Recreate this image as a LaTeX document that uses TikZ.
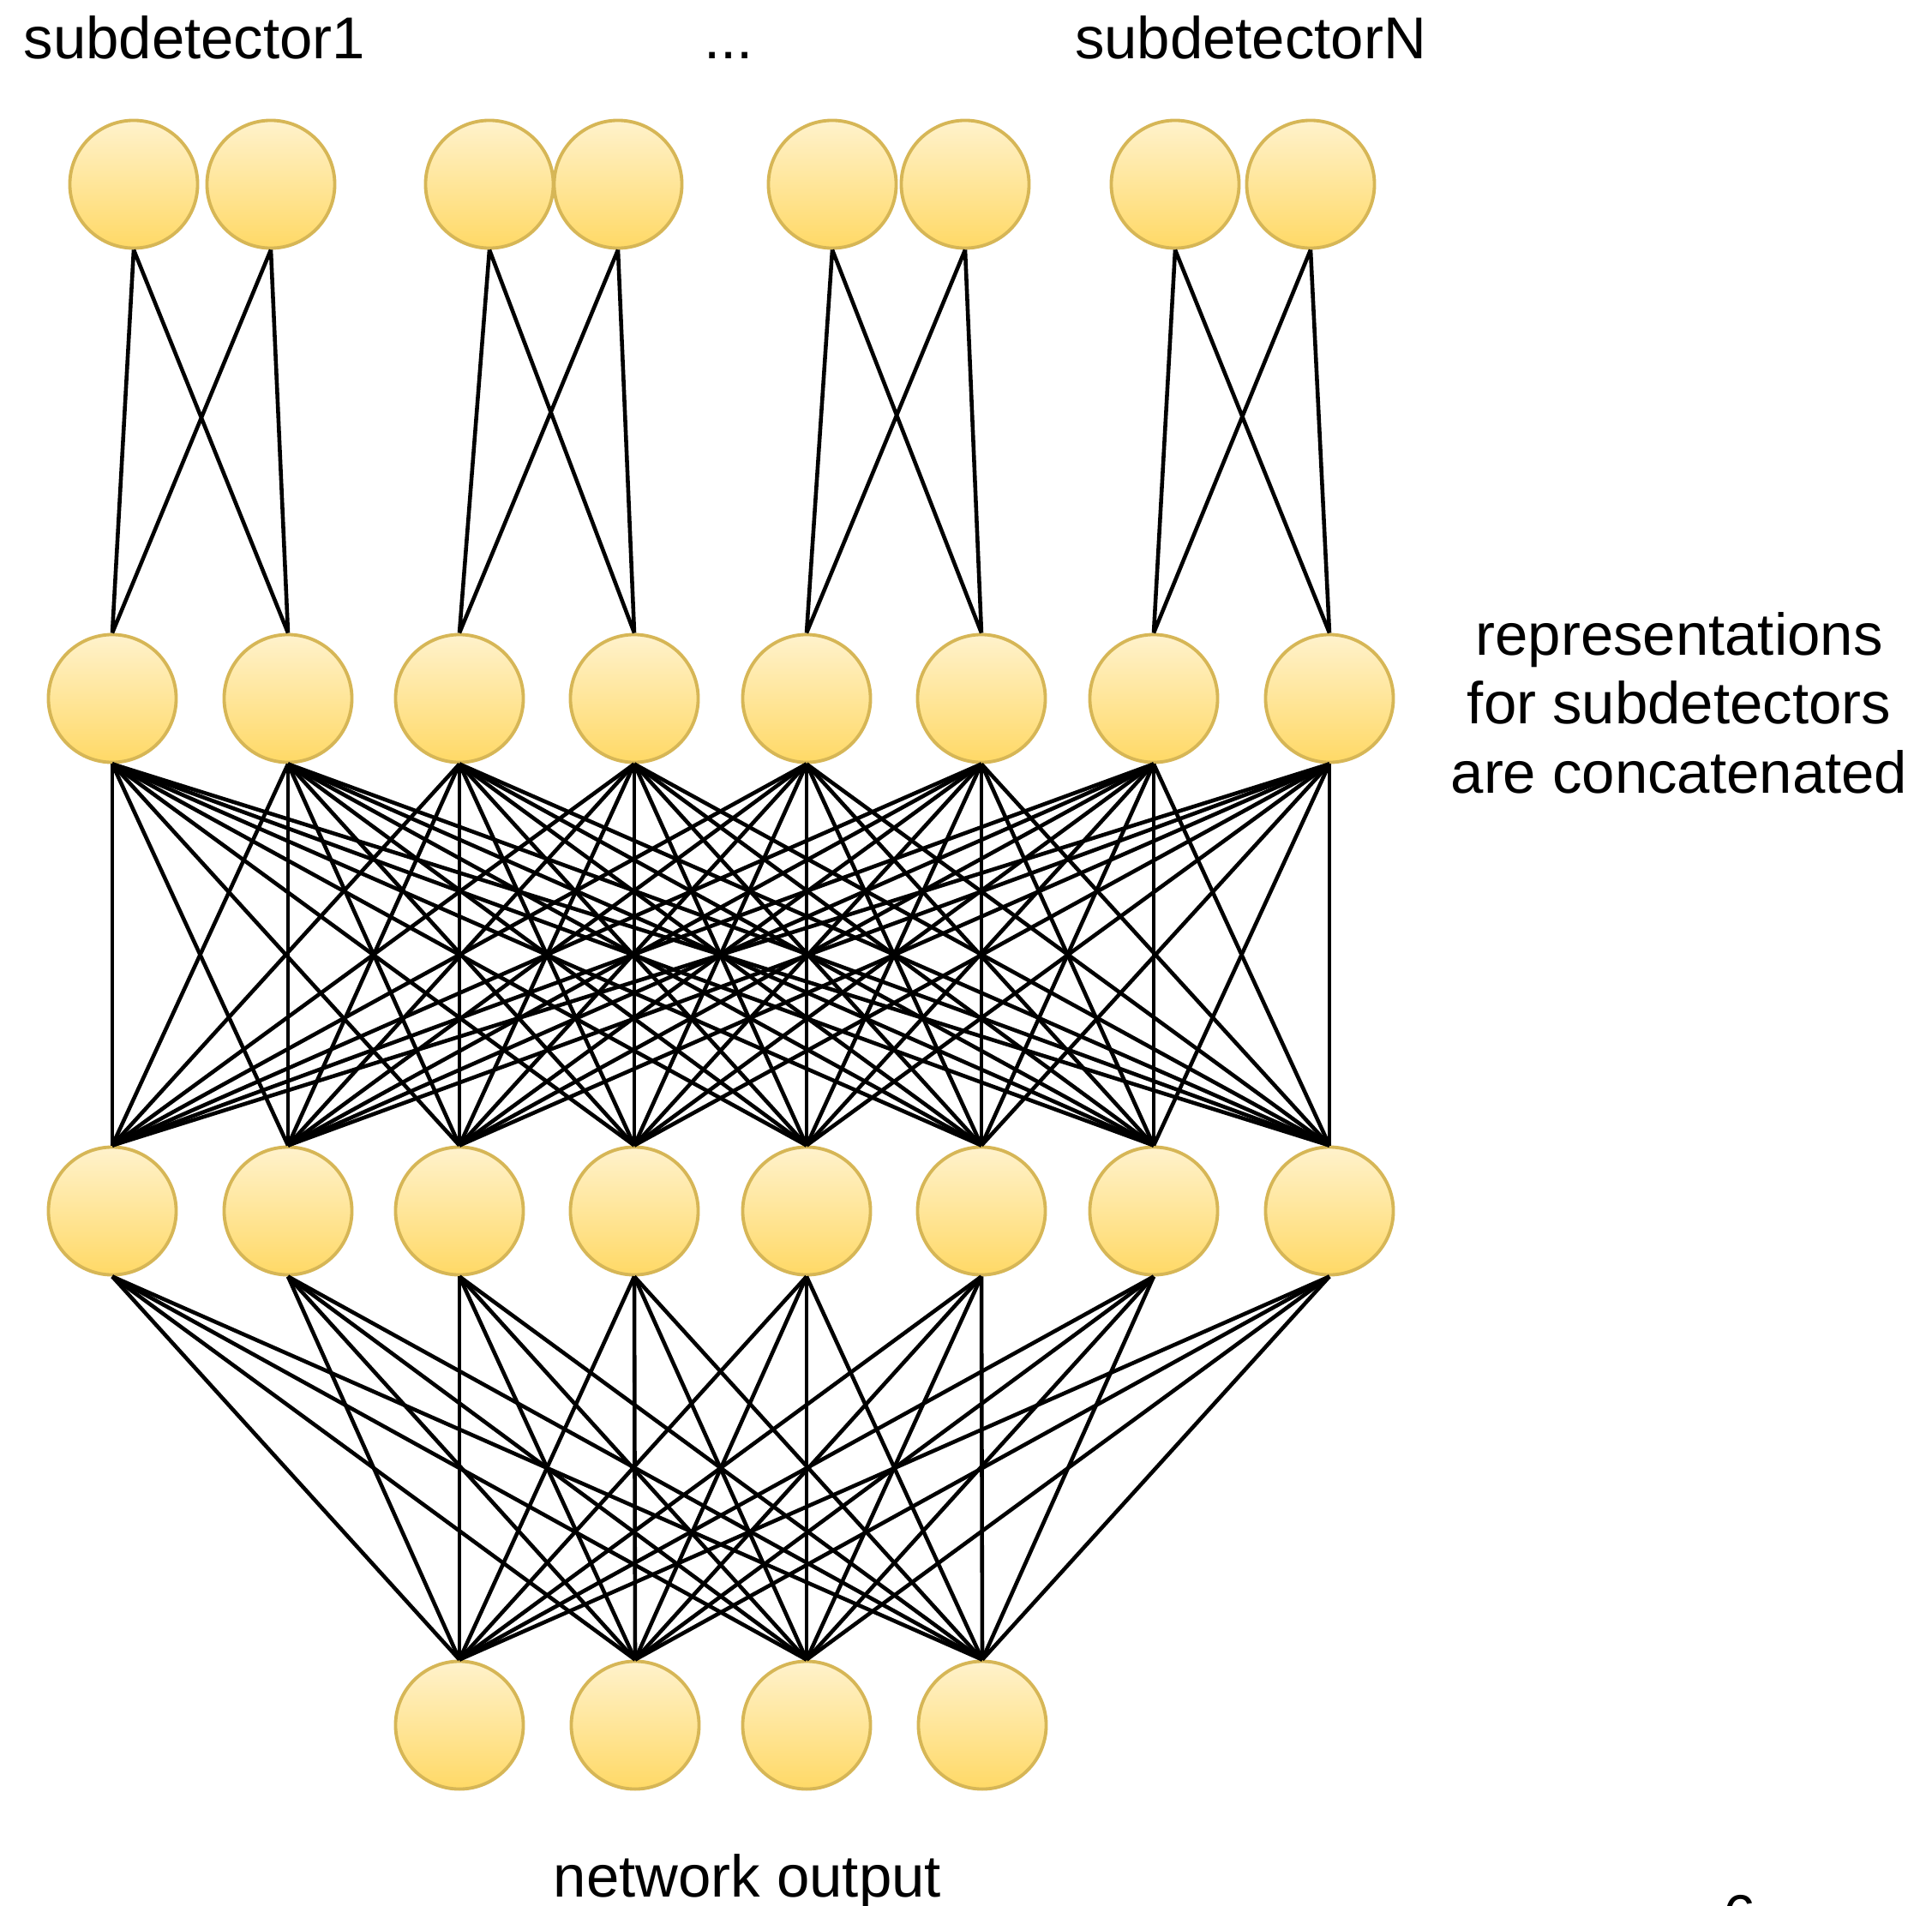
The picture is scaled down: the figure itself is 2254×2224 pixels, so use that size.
\documentclass[tikz,border=0pt]{standalone}
\usepackage{fontspec}
\setmainfont{Liberation Sans}
\definecolor{NeuronTopClr}{rgb}{1,0.949,0.8}
\definecolor{NeuronBotClr}{rgb}{1,0.851,0.4}
\definecolor{NeuronLineClr}{rgb}{0.839,0.714,0.337}

\begin{document}
\begin{tikzpicture}[x=0.01cm,y=-0.01cm,
  neuron/.style={circle,minimum size=1.49cm,inner sep=0pt,line width=1.1pt,
    draw=NeuronLineClr,top color=NeuronTopClr,bottom color=NeuronBotClr},
  wire/.style={line width=1.3pt,black},
  lbl/.style={font=\fontsize{19.6}{22.8}\selectfont,inner sep=0pt,anchor=base}]
\useasboundingbox (0,0) rectangle (2254,2224);

\node[neuron] (I1) at (156,215) {};
\node[neuron] (I2) at (316,215) {};
\node[neuron] (I3) at (571,215) {};
\node[neuron] (I4) at (721,215) {};
\node[neuron] (I5) at (971,215) {};
\node[neuron] (I6) at (1126,215) {};
\node[neuron] (I7) at (1371,215) {};
\node[neuron] (I8) at (1529,215) {};

\foreach \n/\x in {1/131,2/336,3/536,4/740,5/941,6/1145,7/1346,8/1551}{
  \node[neuron] (R\n) at (\x,815) {};
  \node[neuron] (H\n) at (\x,1413) {};
}

\node[neuron] (O1) at (536,2013) {};
\node[neuron] (O2) at (741,2013) {};
\node[neuron] (O3) at (941,2013) {};
\node[neuron] (O4) at (1146,2013) {};

\foreach \a/\b in {1/2,3/4,5/6,7/8}
  \draw[wire] (I\a.south) -- (R\a.north) (I\a.south) -- (R\b.north)
              (I\b.south) -- (R\a.north) (I\b.south) -- (R\b.north);
\foreach \i in {1,...,8}
  \foreach \j in {1,...,8}
    \draw[wire] (R\i.south) -- (H\j.north);
\foreach \i in {1,...,8}
  \foreach \j in {1,...,4}
    \draw[wire] (H\i.south) -- (O\j.north);

\node[lbl] (sub1) at (227,68) {subdetector1};
\node[lbl] (dots) at (850,68) {...};
\node[lbl] (subN) at (1459,68) {subdetectorN};
\node[lbl,align=center] (concat) at (1959,925)
  {representations\\for subdetectors\\are concatenated};
\node[lbl] (out) at (872,2213) {network output};
\node[lbl] (page) at (2030,2259) {6};

\end{tikzpicture}
\end{document}
